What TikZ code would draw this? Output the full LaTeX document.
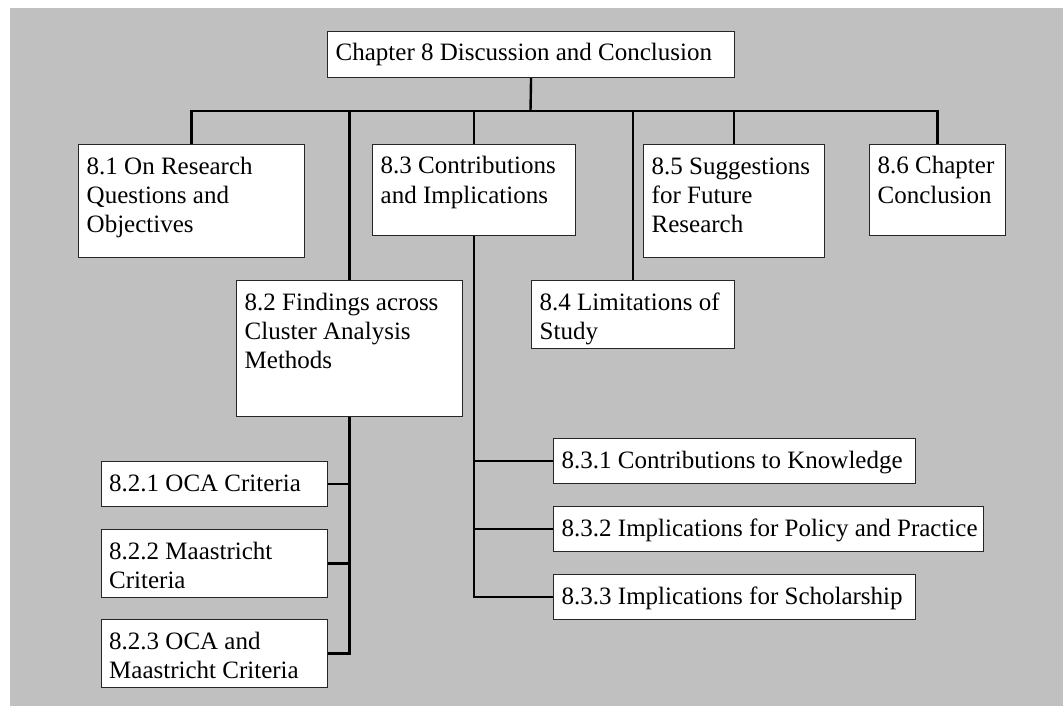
\documentclass[tikz,border=0pt]{standalone}
\usepackage{fontspec}
\setmainfont{Liberation Serif}
\definecolor{bggray}{RGB}{192,192,192}
\begin{document}
\begin{tikzpicture}[x=1pt,y=-1pt,
  box/.style={draw=black!85, fill=white, line width=1.1pt, inner sep=0pt, anchor=north west},
  bx/.style 2 args={minimum width=#1pt, minimum height=#2pt},
  txt/.style={anchor=base west, align=left, inner sep=0pt, font=\fontsize{25}{29}\selectfont, xshift=8.5pt},
  t1/.style={txt, yshift=-30pt},
  t2/.style={txt, yshift=-59pt},
  t3/.style={txt, yshift=-88pt},
  conn/.style={draw=black, line width=2.4pt}]
\useasboundingbox (0,0) rectangle (1063,706);
\fill[white] (0,0) rectangle (1063,706);
\fill[bggray] (10,8) rectangle (1063,706);

\node[box, bx={407}{46}, label={[t1]north west:Chapter 8 Discussion and Conclusion}] (root) at (327,31) {};
\node[box, bx={226}{113}, label={[t3]north west:8.1 On Research\\Questions and\\Objectives}] (n81) at (78,144) {};
\node[box, bx={203}{91}, label={[t2]north west:8.3 Contributions\\and Implications}] (n83) at (372,144) {};
\node[box, bx={181}{113}, label={[t3]north west:8.5 Suggestions\\for Future\\Research}] (n85) at (643,144) {};
\node[box, bx={136}{91}, label={[t2]north west:8.6 Chapter\\Conclusion}] (n86) at (869,144) {};
\node[box, bx={226}{136}, label={[t3]north west:8.2 Findings across\\Cluster Analysis\\Methods}] (n82) at (236,280) {};
\node[box, bx={203}{68}, label={[t2]north west:8.4 Limitations of\\Study}] (n84) at (531,280) {};
\node[box, bx={226.5}{45}, label={[t1]north west:8.2.1 OCA Criteria}] (n821) at (100.5,461) {};
\node[box, bx={226.5}{68}, label={[t2]north west:8.2.2 Maastricht\\Criteria}] (n822) at (100.5,529) {};
\node[box, bx={226.5}{68}, label={[t2]north west:8.2.3 OCA and\\Maastricht Criteria}] (n823) at (100.5,619) {};
\node[box, bx={362}{45}, label={[t1]north west:8.3.1 Contributions to Knowledge}] (n831) at (553,438) {};
\node[box, bx={429.5}{45}, label={[t1]north west:8.3.2 Implications for Policy and Practice}] (n832) at (553,506) {};
\node[box, bx={362}{45}, label={[t1]north west:8.3.3 Implications for Scholarship}] (n833) at (553,574) {};

\coordinate (bus) at (530.5,111);

\draw[conn] (root.south) -- (bus);
\draw[conn] (n81.north) |- (bus) -| (n86.north);
\draw[conn] (n82.north) -- (n82.north |- bus);
\draw[conn] (n83.north) -- (n83.north |- bus);
\draw[conn] (n84.north) -- (n84.north |- bus);
\draw[conn] (n85.north) -- (n85.north |- bus);

\draw[conn] (n82.south) |- (n823.east);
\draw[conn] (n821.east) -- (n821.east -| n82.south);
\draw[conn] (n822.east) -- (n822.east -| n82.south);

\draw[conn] (n83.south) |- (n833.west);
\draw[conn] (n831.west) -- (n831.west -| n83.south);
\draw[conn] (n832.west) -- (n832.west -| n83.south);
\end{tikzpicture}
\end{document}
